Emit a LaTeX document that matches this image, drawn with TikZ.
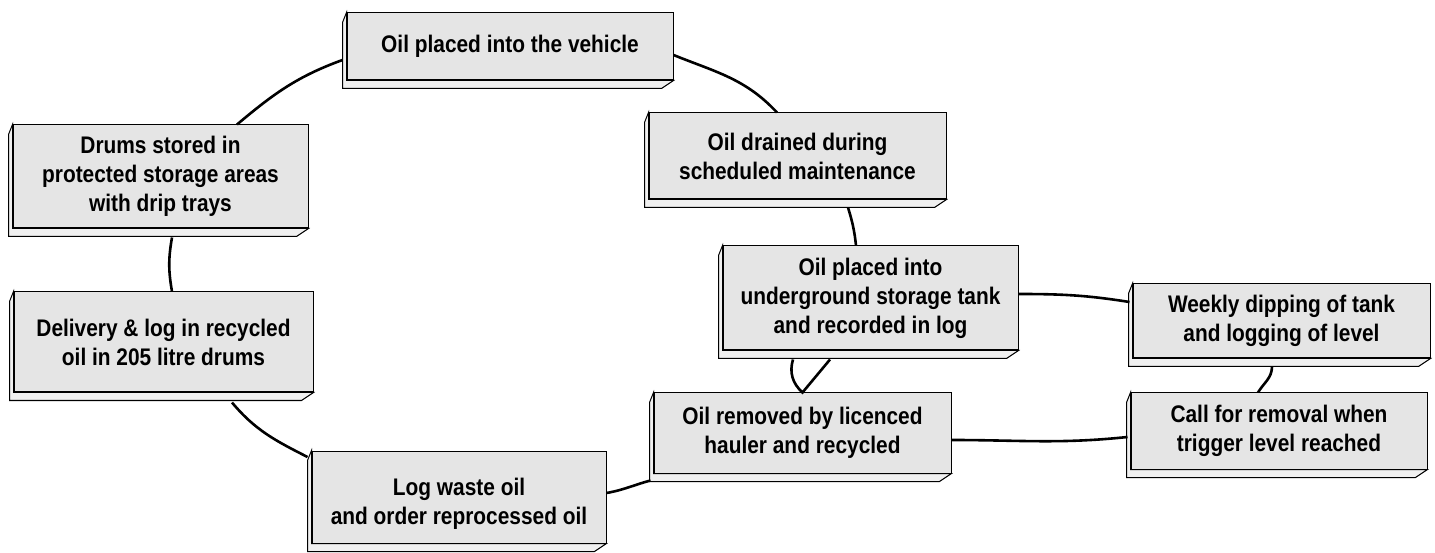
\documentclass[tikz,border=0pt]{standalone}
\usepackage{fontspec}
\newfontfamily\slabfont{Liberation Sans}[FakeStretch=0.87]
\usetikzlibrary{calc}
\tikzset{
  slab/.style={draw=black,fill=gray!20,line width=0.5pt,inner sep=0pt,align=center,
    font=\slabfont\bfseries\fontsize{12}{14.5}\selectfont},
  link/.style={line width=1.3pt}
}
\begin{document}
\begin{tikzpicture}[x=0.5pt,y=0.5pt]
\useasboundingbox (0,0) rectangle (1435,552);
% boxes
\node[slab,minimum width=163pt,minimum height=33.5pt](veh) at (510,505.5){Oil placed into the vehicle};
\node[slab,minimum width=148.5pt,minimum height=43pt](drain) at (797.5,396){Oil drained during\\scheduled maintenance};
\node[slab,minimum width=147.5pt,minimum height=52pt](tank) at (870.5,254){Oil placed into\\underground storage tank\\and recorded in log};
\node[slab,minimum width=148.5pt,minimum height=37pt](dip) at (1281.5,231){Weekly dipping of tank\\and logging of level};
\node[slab,minimum width=148pt,minimum height=38pt](call) at (1279,121){Call for removal when\\trigger level reached};
\node[slab,minimum width=148.5pt,minimum height=40pt](haul) at (802.5,119){Oil removed by licenced\\hauler and recycled};
\node[slab,minimum width=147pt,minimum height=46pt,text height=30pt](logw) at (459,55){Log waste oil\\and order reprocessed oil};
\node[slab,minimum width=149.5pt,minimum height=50pt](deliv) at (163.5,210){Delivery \& log in recycled\\oil in 205 litre drums};
\node[slab,minimum width=147.5pt,minimum height=51.5pt](drums) at (160.5,375.5){Drums stored in\\protected storage areas\\with drip trays};
% bevel
\foreach \n in {veh,drain,tank,dip,call,haul,logw,deliv,drums}
  \draw[fill=gray!12,line width=0.5pt](\n.north west)--++(-4,-10)--($(\n.south west)+(-4,-8)$)
    --($(\n.south east)+(-12,-8)$)--(\n.south east)--(\n.south west)--cycle;
% cycle
\draw[link]($(drums.north)+(76.5,0)$) to[out=40,in=200]($(veh.west)+(-4,-13.5)$);
\draw[link]($(veh.east)+(0,-8.5)$) to[out=-22,in=133]($(drain.north)+(-20.5,0)$);
\draw[link]($(drain.south)+(50.5,-8)$) to[out=-73,in=96]($(tank.north)+(-14.5,0)$);
\draw[link]($(tank.east)+(0,4)$) to[out=0,in=171]($(dip.west)+(-3,19)$);
\draw[link]($(dip.south)+(-9.5,-8)$) to[out=-90,in=59]($(call.north)+(-21,0)$);
\draw[link]($(call.west)+(-3,-6)$) to[out=186,in=0]($(haul.east)+(0,-7)$);
\draw[link]($(tank.south)+(-77.5,-9)$) to[out=-107,in=138](haul.north)--($(tank.south)+(-40.5,-9)$);
\draw[link]($(haul.south west)+(-3,-7)$) to[out=195,in=10]($(logw.east)+(0,4)$);
\draw[link]($(logw.west)+(-4,40)$) to[out=153,in=-50]($(deliv.south)+(68.5,-10)$);
\draw[link]($(deliv.north)+(8.5,0)$) to[out=100,in=-100]($(drums.south)+(11.5,-9)$);
\end{tikzpicture}
\end{document}
